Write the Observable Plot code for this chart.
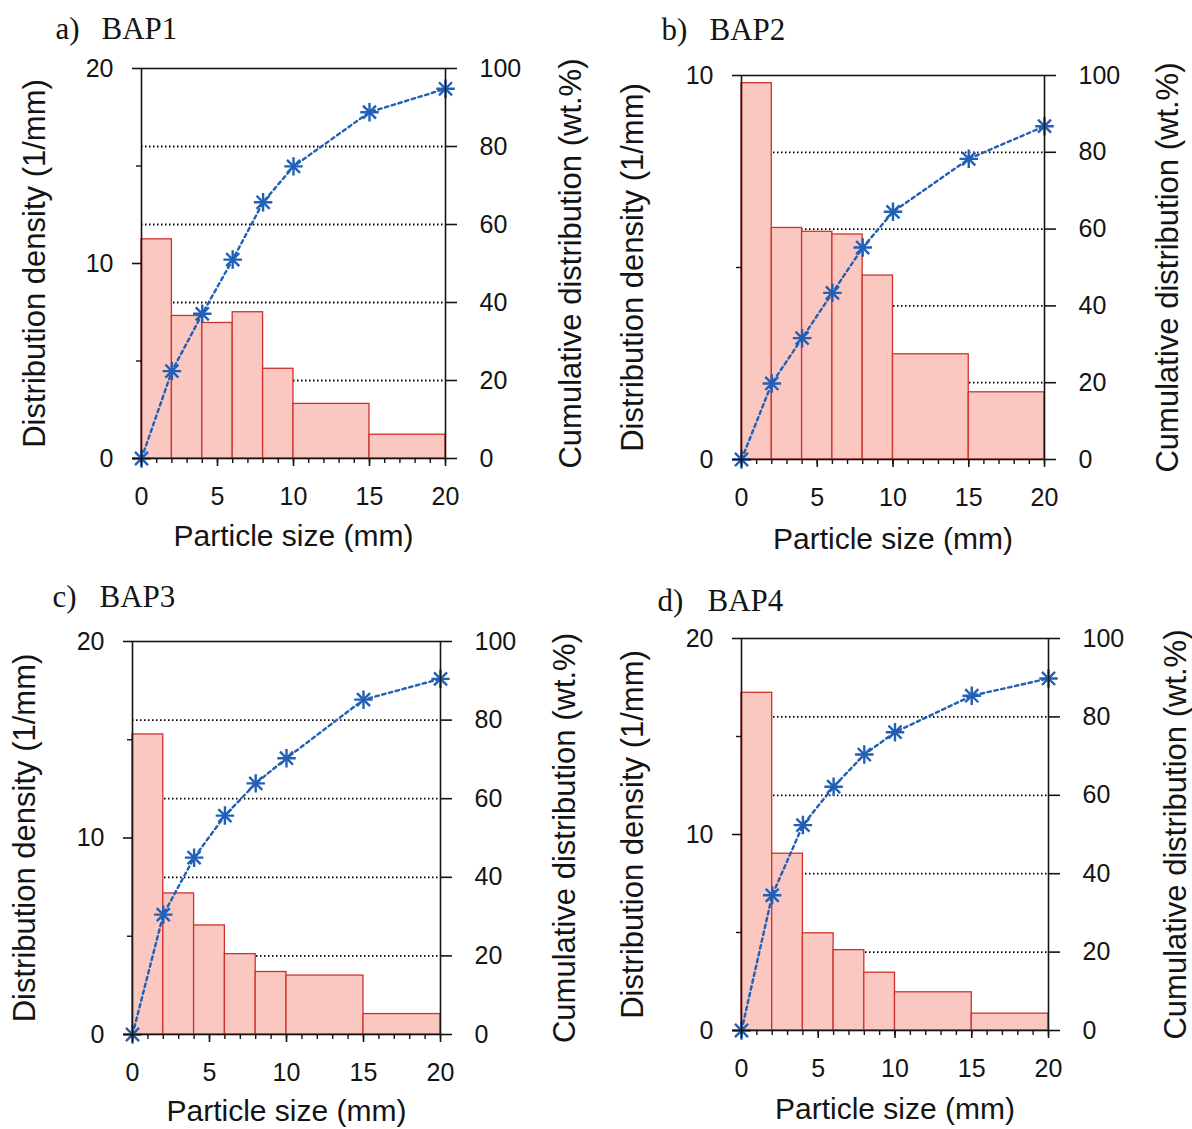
<!DOCTYPE html>
<html>
<head>
<meta charset="utf-8">
<script src="https://cdn.jsdelivr.net/npm/d3@7"></script>
<script src="https://cdn.jsdelivr.net/npm/@observablehq/plot@0.6"></script>
<style>
  html, body { margin: 0; padding: 0; background: #fff; }
  #wrap { position: relative; width: 1192px; height: 1129px; overflow: hidden; }
  .panel { position: absolute; }
</style>
</head>
<body>
<div id="wrap"></div>
<script>
// ---- data ----
const binEdges = [0, 2, 4, 6, 8, 10, 15, 20];      // mm
const cumSizes = [0, 2, 4, 6, 8, 10, 15, 20];      // mm
const leftTicks20 = [0, 10, 20];
const leftTicks10 = [0, 10];
const rightTickLabels = [0, 20, 40, 60, 80, 100];
const gridPercents = [20, 40, 60, 80];
const xTickLabels = [0, 5, 10, 15, 20];

const densA = [11.24, 7.31, 6.95, 7.5, 4.6, 2.8, 1.22];
const cumA  = [0, 22.4, 37.1, 51.0, 65.7, 74.9, 88.8, 94.8];
const densB = [9.8, 6.03, 5.93, 5.86, 4.79, 2.74, 1.75];
const cumB  = [0, 19.8, 31.6, 43.4, 55.2, 64.5, 78.3, 86.8];
const densC = [15.27, 7.18, 5.55, 4.09, 3.18, 3.0, 1.04];
const cumC  = [0, 30.5, 45.0, 55.7, 63.9, 70.3, 85.2, 90.5];
const densD = [17.23, 9.02, 4.96, 4.1, 2.95, 1.95, 0.86];
const cumD  = [0, 34.5, 52.4, 62.2, 70.4, 76.1, 85.4, 89.8];

const panelLetters = ["a)", "b)", "c)", "d)"];
const panelNames = ["BAP1", "BAP2", "BAP3", "BAP4"];
const xLabel = "Particle size (mm)";
const yLeftLabel = "Distribution density (1/mm)";
const yRightLabel = "Cumulative distribution (wt.%)";

// ---- layout (positions / sizes) ----
const panels = [
  {dens: densA, cum: cumA, ymax: 20, left: 0,   top: 0,   w: 596, h: 570, mL: 141, mR: 151, mT: 68, mB: 112,
   tA: [-86, -39], tN: [-40, -39], lDx: -106, rDx: 126, xDy: 78},
  {dens: densB, cum: cumB, ymax: 10, left: 596, top: 0,   w: 596, h: 570, mL: 145, mR: 148, mT: 75, mB: 111,
   tA: [-80, -45], tN: [-32, -45], lDx: -108, rDx: 124, xDy: 80},
  {dens: densC, cum: cumC, ymax: 20, left: 0,   top: 570, w: 596, h: 559, mL: 132, mR: 156, mT: 71, mB: 95,
   tA: [-80, -44], tN: [-33, -44], lDx: -107, rDx: 125, xDy: 77},
  {dens: densD, cum: cumD, ymax: 20, left: 596, top: 570, w: 596, h: 559, mL: 145, mR: 144, mT: 68, mB: 99,
   tA: [-84, -37], tN: [-34, -37], lDx: -108, rDx: 128, xDy: 79}
];

const wrap = document.getElementById("wrap");
const barFill = "#fac8c0", barStroke = "#cf322d", lineColor = "#2160b6", ink = "#141414";
const sans = "'Liberation Sans', Arial, Helvetica, sans-serif";
const serif = "'Liberation Serif', 'Times New Roman', serif";

panels.forEach((p, i) => {
  const k = p.ymax / 100;
  const bins = p.dens.map((d, j) => ({x1: binEdges[j], x2: binEdges[j + 1], d}));
  const cum = p.cum.map((c, j) => ({x: cumSizes[j], c}));
  const leftTicks = p.ymax === 20 ? leftTicks20 : leftTicks10;
  const leftMinor = d3.range(5, p.ymax, 10);
  const chart = Plot.plot({
    width: p.w, height: p.h,
    marginLeft: p.mL, marginRight: p.mR, marginTop: p.mT, marginBottom: p.mB,
    x: {domain: [0, 20]},
    y: {domain: [0, p.ymax]},
    style: {fontFamily: sans, fontSize: "25px", color: ink, background: "transparent", overflow: "visible"},
    marks: [
      Plot.ruleY(gridPercents.map(v => v * k), {x1: 0, x2: 20, stroke: "#000", strokeWidth: 1.8, strokeDasharray: "1.5,2.5"}),
      Plot.rectY(bins, {x1: "x1", x2: "x2", y: "d", fill: barFill, stroke: barStroke, strokeWidth: 1.3}),
      Plot.line(cum, {x: "x", y: d => d.c * k, stroke: lineColor, strokeWidth: 2.4, strokeDasharray: "3.5,3.5"}),
      Plot.dot(cum, {x: "x", y: d => d.c * k, symbol: "plus", r: 6, stroke: lineColor, strokeWidth: 2.4}),
      Plot.dot(cum, {x: "x", y: d => d.c * k, symbol: "times", r: 6, stroke: lineColor, strokeWidth: 2.4}),
      Plot.frame({stroke: ink, strokeWidth: 1.6}),
      Plot.axisY({ticks: leftTicks, tickSize: 9, tickPadding: 19, label: null, strokeWidth: 1.6}),
      Plot.axisY({ticks: leftMinor, tickSize: 5, tickFormat: () => "", label: null, strokeWidth: 1.4}),
      Plot.axisY({anchor: "right", ticks: rightTickLabels.map(v => v * k), tickFormat: v => Math.round(v / k),
                  tickSize: 11, tickPadding: 23, label: null, strokeWidth: 1.6}),
      Plot.axisX({ticks: d3.range(0, 21), tickSize: 5, tickFormat: () => "", label: null, strokeWidth: 1.4}),
      Plot.axisX({ticks: xTickLabels, tickSize: 8, tickPadding: 21, label: null, strokeWidth: 1.6}),
      Plot.text([xLabel], {frameAnchor: "bottom", dy: p.xDy, fontSize: 30, fill: ink, textAnchor: "middle", lineAnchor: "middle"}),
      Plot.text([yLeftLabel], {frameAnchor: "left", dx: p.lDx, rotate: -90, fontSize: 31, fill: ink, textAnchor: "middle", lineAnchor: "middle"}),
      Plot.text([yRightLabel], {frameAnchor: "right", dx: p.rDx, rotate: -90, fontSize: 31, fill: ink, textAnchor: "middle", lineAnchor: "middle"}),
      Plot.text([panelLetters[i]], {frameAnchor: "top-left", dx: p.tA[0], dy: p.tA[1], textAnchor: "start", lineAnchor: "middle",
                                    fontSize: 31, fontFamily: serif, fill: ink}),
      Plot.text([panelNames[i]], {frameAnchor: "top-left", dx: p.tN[0], dy: p.tN[1], textAnchor: "start", lineAnchor: "middle",
                                   fontSize: 31, fontFamily: serif, fill: ink})
    ]
  });
  const div = document.createElement("div");
  div.className = "panel";
  div.style.left = p.left + "px";
  div.style.top = p.top + "px";
  div.appendChild(chart);
  wrap.appendChild(div);
});
</script>
</body>
</html>
